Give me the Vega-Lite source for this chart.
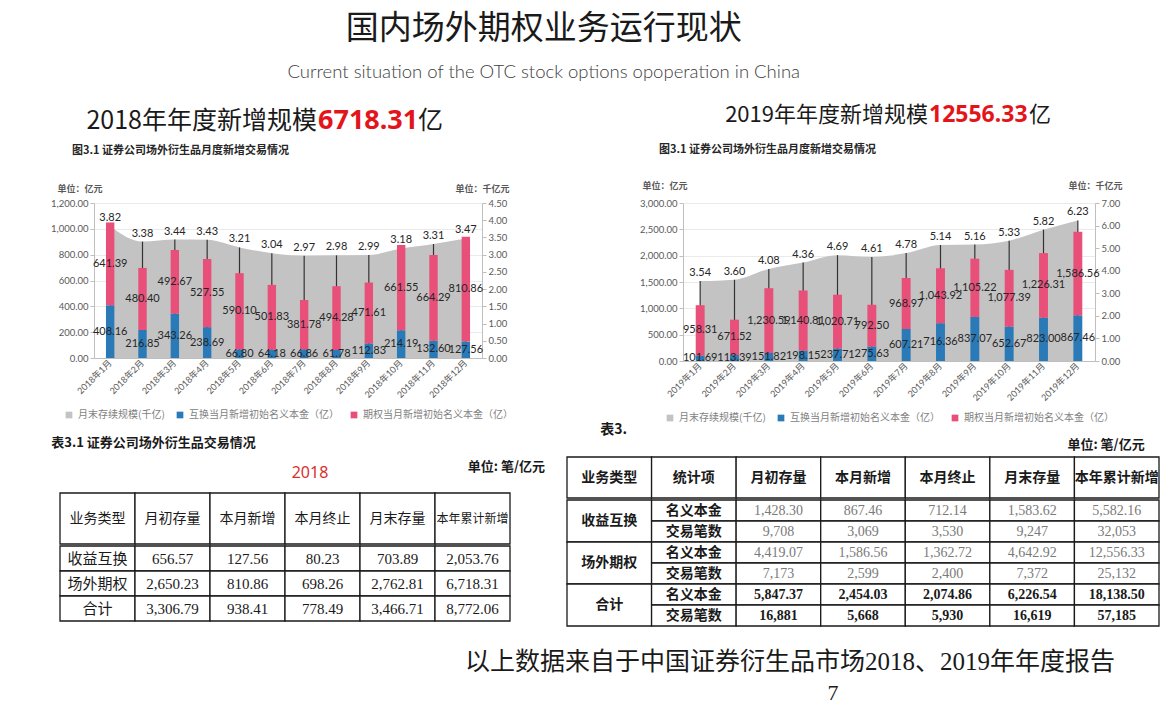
{
  "$schema": "https://vega.github.io/schema/vega-lite/v6.json",
  "background": "#ffffff",
  "padding": {"left": 50, "top": 12, "right": 0, "bottom": 0},
  "spacing": 0,
  "title": {
    "text": "国内场外期权业务运行现状",
    "subtitle": "Current situation of the OTC stock options opoperation in China",
    "anchor": "middle", "frame": "bounds", "dx": -66, "offset": 16,
    "font": "Noto Sans CJK SC", "fontSize": 33, "fontWeight": "normal", "color": "#1a1a1a",
    "subtitleFont": "Lato", "subtitleFontSize": 18.5, "subtitleFontWeight": 300, "subtitleColor": "#404040", "subtitlePadding": 17
  },
  "config": {
    "view": {"stroke": null},
    "legend": {"layout": {"bottom": {"anchor": "middle"}}}
  },
  "datasets": {
    "heads": [{"a1": "2018年年度新增规模", "a2": "6718.31", "a3": "亿", "b1": "2019年年度新增规模", "b2": "12556.33", "b3": "亿"}],
    "foot": [{"f": "以上数据来自于中国证券衍生品市场2018、2019年年度报告", "p": "7"}],
    "meta18": [{"yr": "2018", "unit": "单位: 笔/亿元"}],
    "c2018": [
      {"m": "2018年1月", "s": "月末存续规模(千亿)", "v": 3.82}, {"m": "2018年1月", "s": "互换当月新增初始名义本金（亿）", "v": 408.16}, {"m": "2018年1月", "s": "期权当月新增初始名义本金（亿）", "v": 641.39},
      {"m": "2018年2月", "s": "月末存续规模(千亿)", "v": 3.38}, {"m": "2018年2月", "s": "互换当月新增初始名义本金（亿）", "v": 216.85}, {"m": "2018年2月", "s": "期权当月新增初始名义本金（亿）", "v": 480.40},
      {"m": "2018年3月", "s": "月末存续规模(千亿)", "v": 3.44}, {"m": "2018年3月", "s": "互换当月新增初始名义本金（亿）", "v": 343.26}, {"m": "2018年3月", "s": "期权当月新增初始名义本金（亿）", "v": 492.67},
      {"m": "2018年4月", "s": "月末存续规模(千亿)", "v": 3.43}, {"m": "2018年4月", "s": "互换当月新增初始名义本金（亿）", "v": 238.69}, {"m": "2018年4月", "s": "期权当月新增初始名义本金（亿）", "v": 527.55},
      {"m": "2018年5月", "s": "月末存续规模(千亿)", "v": 3.21}, {"m": "2018年5月", "s": "互换当月新增初始名义本金（亿）", "v": 66.80}, {"m": "2018年5月", "s": "期权当月新增初始名义本金（亿）", "v": 590.10},
      {"m": "2018年6月", "s": "月末存续规模(千亿)", "v": 3.04}, {"m": "2018年6月", "s": "互换当月新增初始名义本金（亿）", "v": 64.18}, {"m": "2018年6月", "s": "期权当月新增初始名义本金（亿）", "v": 501.83},
      {"m": "2018年7月", "s": "月末存续规模(千亿)", "v": 2.97}, {"m": "2018年7月", "s": "互换当月新增初始名义本金（亿）", "v": 66.86}, {"m": "2018年7月", "s": "期权当月新增初始名义本金（亿）", "v": 381.78},
      {"m": "2018年8月", "s": "月末存续规模(千亿)", "v": 2.98}, {"m": "2018年8月", "s": "互换当月新增初始名义本金（亿）", "v": 61.78}, {"m": "2018年8月", "s": "期权当月新增初始名义本金（亿）", "v": 494.28},
      {"m": "2018年9月", "s": "月末存续规模(千亿)", "v": 2.99}, {"m": "2018年9月", "s": "互换当月新增初始名义本金（亿）", "v": 112.83}, {"m": "2018年9月", "s": "期权当月新增初始名义本金（亿）", "v": 471.61},
      {"m": "2018年10月", "s": "月末存续规模(千亿)", "v": 3.18}, {"m": "2018年10月", "s": "互换当月新增初始名义本金（亿）", "v": 214.19}, {"m": "2018年10月", "s": "期权当月新增初始名义本金（亿）", "v": 661.55},
      {"m": "2018年11月", "s": "月末存续规模(千亿)", "v": 3.31}, {"m": "2018年11月", "s": "互换当月新增初始名义本金（亿）", "v": 132.60}, {"m": "2018年11月", "s": "期权当月新增初始名义本金（亿）", "v": 664.29},
      {"m": "2018年12月", "s": "月末存续规模(千亿)", "v": 3.47}, {"m": "2018年12月", "s": "互换当月新增初始名义本金（亿）", "v": 127.56}, {"m": "2018年12月", "s": "期权当月新增初始名义本金（亿）", "v": 810.86}
    ],
    "c2019": [
      {"m": "2019年1月", "s": "月末存续规模(千亿)", "v": 3.54}, {"m": "2019年1月", "s": "互换当月新增初始名义本金（亿）", "v": 101.69}, {"m": "2019年1月", "s": "期权当月新增初始名义本金（亿）", "v": 958.31},
      {"m": "2019年2月", "s": "月末存续规模(千亿)", "v": 3.60}, {"m": "2019年2月", "s": "互换当月新增初始名义本金（亿）", "v": 113.39}, {"m": "2019年2月", "s": "期权当月新增初始名义本金（亿）", "v": 671.52},
      {"m": "2019年3月", "s": "月末存续规模(千亿)", "v": 4.08}, {"m": "2019年3月", "s": "互换当月新增初始名义本金（亿）", "v": 151.82}, {"m": "2019年3月", "s": "期权当月新增初始名义本金（亿）", "v": 1230.59},
      {"m": "2019年4月", "s": "月末存续规模(千亿)", "v": 4.36}, {"m": "2019年4月", "s": "互换当月新增初始名义本金（亿）", "v": 198.15}, {"m": "2019年4月", "s": "期权当月新增初始名义本金（亿）", "v": 1140.81},
      {"m": "2019年5月", "s": "月末存续规模(千亿)", "v": 4.69}, {"m": "2019年5月", "s": "互换当月新增初始名义本金（亿）", "v": 237.71}, {"m": "2019年5月", "s": "期权当月新增初始名义本金（亿）", "v": 1020.71},
      {"m": "2019年6月", "s": "月末存续规模(千亿)", "v": 4.61}, {"m": "2019年6月", "s": "互换当月新增初始名义本金（亿）", "v": 275.63}, {"m": "2019年6月", "s": "期权当月新增初始名义本金（亿）", "v": 792.50},
      {"m": "2019年7月", "s": "月末存续规模(千亿)", "v": 4.78}, {"m": "2019年7月", "s": "互换当月新增初始名义本金（亿）", "v": 607.21}, {"m": "2019年7月", "s": "期权当月新增初始名义本金（亿）", "v": 968.97},
      {"m": "2019年8月", "s": "月末存续规模(千亿)", "v": 5.14}, {"m": "2019年8月", "s": "互换当月新增初始名义本金（亿）", "v": 716.36}, {"m": "2019年8月", "s": "期权当月新增初始名义本金（亿）", "v": 1043.92},
      {"m": "2019年9月", "s": "月末存续规模(千亿)", "v": 5.16}, {"m": "2019年9月", "s": "互换当月新增初始名义本金（亿）", "v": 837.07}, {"m": "2019年9月", "s": "期权当月新增初始名义本金（亿）", "v": 1105.22},
      {"m": "2019年10月", "s": "月末存续规模(千亿)", "v": 5.33}, {"m": "2019年10月", "s": "互换当月新增初始名义本金（亿）", "v": 652.67}, {"m": "2019年10月", "s": "期权当月新增初始名义本金（亿）", "v": 1077.39},
      {"m": "2019年11月", "s": "月末存续规模(千亿)", "v": 5.82}, {"m": "2019年11月", "s": "互换当月新增初始名义本金（亿）", "v": 823.00}, {"m": "2019年11月", "s": "期权当月新增初始名义本金（亿）", "v": 1226.31},
      {"m": "2019年12月", "s": "月末存续规模(千亿)", "v": 6.23}, {"m": "2019年12月", "s": "互换当月新增初始名义本金（亿）", "v": 867.46}, {"m": "2019年12月", "s": "期权当月新增初始名义本金（亿）", "v": 1586.56}
    ],
    "t18h": [{"c": "业务类型"}, {"c": "月初存量"}, {"c": "本月新增"}, {"c": "本月终止"}, {"c": "月末存量"}, {"c": "本年累计新增"}],
    "t18b": [
      {"r": "收益互换", "c": "业务类型", "t": "收益互换"}, {"r": "收益互换", "c": "月初存量", "t": "656.57"}, {"r": "收益互换", "c": "本月新增", "t": "127.56"}, {"r": "收益互换", "c": "本月终止", "t": "80.23"}, {"r": "收益互换", "c": "月末存量", "t": "703.89"}, {"r": "收益互换", "c": "本年累计新增", "t": "2,053.76"},
      {"r": "场外期权", "c": "业务类型", "t": "场外期权"}, {"r": "场外期权", "c": "月初存量", "t": "2,650.23"}, {"r": "场外期权", "c": "本月新增", "t": "810.86"}, {"r": "场外期权", "c": "本月终止", "t": "698.26"}, {"r": "场外期权", "c": "月末存量", "t": "2,762.81"}, {"r": "场外期权", "c": "本年累计新增", "t": "6,718.31"},
      {"r": "合计", "c": "业务类型", "t": "合计"}, {"r": "合计", "c": "月初存量", "t": "3,306.79"}, {"r": "合计", "c": "本月新增", "t": "938.41"}, {"r": "合计", "c": "本月终止", "t": "778.49"}, {"r": "合计", "c": "月末存量", "t": "3,466.71"}, {"r": "合计", "c": "本年累计新增", "t": "8,772.06"}
    ],
    "t19h": [{"c": "业务类型"}, {"c": "统计项"}, {"c": "月初存量"}, {"c": "本月新增"}, {"c": "本月终止"}, {"c": "月末存量"}, {"c": "本年累计新增"}],
    "t19g": [{"g": "收益互换", "c": "业务类型"}, {"g": "场外期权", "c": "业务类型"}, {"g": "合计", "c": "业务类型"}],
    "t19b": [
      {"k": "收益互换/名义本金", "g": "收益互换", "c": "统计项", "t": "名义本金"}, {"k": "收益互换/名义本金", "g": "收益互换", "c": "月初存量", "t": "1,428.30"}, {"k": "收益互换/名义本金", "g": "收益互换", "c": "本月新增", "t": "867.46"}, {"k": "收益互换/名义本金", "g": "收益互换", "c": "本月终止", "t": "712.14"}, {"k": "收益互换/名义本金", "g": "收益互换", "c": "月末存量", "t": "1,583.62"}, {"k": "收益互换/名义本金", "g": "收益互换", "c": "本年累计新增", "t": "5,582.16"},
      {"k": "收益互换/交易笔数", "g": "收益互换", "c": "统计项", "t": "交易笔数"}, {"k": "收益互换/交易笔数", "g": "收益互换", "c": "月初存量", "t": "9,708"}, {"k": "收益互换/交易笔数", "g": "收益互换", "c": "本月新增", "t": "3,069"}, {"k": "收益互换/交易笔数", "g": "收益互换", "c": "本月终止", "t": "3,530"}, {"k": "收益互换/交易笔数", "g": "收益互换", "c": "月末存量", "t": "9,247"}, {"k": "收益互换/交易笔数", "g": "收益互换", "c": "本年累计新增", "t": "32,053"},
      {"k": "场外期权/名义本金", "g": "场外期权", "c": "统计项", "t": "名义本金"}, {"k": "场外期权/名义本金", "g": "场外期权", "c": "月初存量", "t": "4,419.07"}, {"k": "场外期权/名义本金", "g": "场外期权", "c": "本月新增", "t": "1,586.56"}, {"k": "场外期权/名义本金", "g": "场外期权", "c": "本月终止", "t": "1,362.72"}, {"k": "场外期权/名义本金", "g": "场外期权", "c": "月末存量", "t": "4,642.92"}, {"k": "场外期权/名义本金", "g": "场外期权", "c": "本年累计新增", "t": "12,556.33"},
      {"k": "场外期权/交易笔数", "g": "场外期权", "c": "统计项", "t": "交易笔数"}, {"k": "场外期权/交易笔数", "g": "场外期权", "c": "月初存量", "t": "7,173"}, {"k": "场外期权/交易笔数", "g": "场外期权", "c": "本月新增", "t": "2,599"}, {"k": "场外期权/交易笔数", "g": "场外期权", "c": "本月终止", "t": "2,400"}, {"k": "场外期权/交易笔数", "g": "场外期权", "c": "月末存量", "t": "7,372"}, {"k": "场外期权/交易笔数", "g": "场外期权", "c": "本年累计新增", "t": "25,132"},
      {"k": "合计/名义本金", "g": "合计", "c": "统计项", "t": "名义本金"}, {"k": "合计/名义本金", "g": "合计", "c": "月初存量", "t": "5,847.37"}, {"k": "合计/名义本金", "g": "合计", "c": "本月新增", "t": "2,454.03"}, {"k": "合计/名义本金", "g": "合计", "c": "本月终止", "t": "2,074.86"}, {"k": "合计/名义本金", "g": "合计", "c": "月末存量", "t": "6,226.54"}, {"k": "合计/名义本金", "g": "合计", "c": "本年累计新增", "t": "18,138.50"},
      {"k": "合计/交易笔数", "g": "合计", "c": "统计项", "t": "交易笔数"}, {"k": "合计/交易笔数", "g": "合计", "c": "月初存量", "t": "16,881"}, {"k": "合计/交易笔数", "g": "合计", "c": "本月新增", "t": "5,668"}, {"k": "合计/交易笔数", "g": "合计", "c": "本月终止", "t": "5,930"}, {"k": "合计/交易笔数", "g": "合计", "c": "月末存量", "t": "16,619"}, {"k": "合计/交易笔数", "g": "合计", "c": "本年累计新增", "t": "57,185"}
    ]
  },
  "vconcat": [
    {
      "width": 1075, "height": 47,
      "data": {"name": "heads"},
      "layer": [
        {"mark": {"type": "text", "align": "right", "baseline": "middle", "dx": -314.5, "dy": 0, "font": "Noto Sans CJK SC", "fontSize": 25, "color": "#1a1a1a"}, "encoding": {"text": {"field": "a1"}}},
        {"mark": {"type": "text", "align": "left", "baseline": "middle", "dx": -313.5, "dy": 0, "font": "Noto Sans", "fontWeight": "bold", "fontSize": 27, "color": "#e3151a"}, "encoding": {"text": {"field": "a2"}}},
        {"mark": {"type": "text", "align": "left", "baseline": "middle", "dx": -213.5, "dy": 0, "font": "Noto Sans CJK SC", "fontSize": 25, "color": "#1a1a1a"}, "encoding": {"text": {"field": "a3"}}},
        {"mark": {"type": "text", "align": "right", "baseline": "middle", "dx": 296.5, "dy": -6, "font": "Noto Sans CJK SC", "fontSize": 22, "color": "#1a1a1a"}, "encoding": {"text": {"field": "b1"}}},
        {"mark": {"type": "text", "align": "left", "baseline": "middle", "dx": 297.5, "dy": -6, "font": "Noto Sans", "fontWeight": "bold", "fontSize": 23, "color": "#e3151a"}, "encoding": {"text": {"field": "b2"}}},
        {"mark": {"type": "text", "align": "left", "baseline": "middle", "dx": 397.5, "dy": -6, "font": "Noto Sans CJK SC", "fontSize": 22, "color": "#1a1a1a"}, "encoding": {"text": {"field": "b3"}}}
      ]
    },
    {
      "hconcat": [
        {
          "width": 388, "height": 155,
          "data": {"name": "c2018"},
          "title": {"text": "图3.1 证券公司场外衍生品月度新增交易情况", "anchor": "start", "frame": "group", "dx": -22, "offset": 28, "font": "Noto Sans CJK SC", "fontSize": 11, "fontWeight": "bold", "color": "#262626"},
          "layer": [
            {
              "transform": [{"filter": "datum.s === '月末存续规模(千亿)'"}],
              "encoding": {
                "x": {"field": "m", "type": "ordinal", "bandPosition": 0.5, "scale": {"domain": ["2018年1月", "2018年2月", "2018年3月", "2018年4月", "2018年5月", "2018年6月", "2018年7月", "2018年8月", "2018年9月", "2018年10月", "2018年11月", "2018年12月"], "paddingInner": 0.74, "paddingOuter": 0.37}},
                "y": {"field": "v", "type": "quantitative", "scale": {"domain": [0, 4.5], "nice": false},
                  "axis": {"orient": "right", "values": [0, 0.5, 1, 1.5, 2, 2.5, 3, 3.5, 4, 4.5], "format": ".2f", "grid": false, "domainColor": "#bfbfbf", "tickColor": "#bfbfbf", "tickSize": 4, "labelFont": "Lato", "labelFontSize": 9.5, "labelColor": "#595959", "labelPadding": 2,
                    "title": "单位：千亿元", "titleAngle": 0, "titleX": 0, "titleY": -12, "titleAlign": "center", "titleBaseline": "alphabetic", "titleFont": "Noto Sans CJK SC", "titleFontSize": 9, "titleFontWeight": "bold", "titleColor": "#595959"}}
              },
              "layer": [
                {"mark": {"type": "area", "interpolate": "monotone"},
                 "encoding": {"color": {"field": "s", "type": "nominal", "scale": {"domain": ["月末存续规模(千亿)", "互换当月新增初始名义本金（亿）", "期权当月新增初始名义本金（亿）"], "range": ["#c3c3c3", "#2a7ab8", "#e8507a"]},
                   "legend": {"orient": "bottom", "direction": "horizontal", "title": null, "symbolType": "square", "symbolSize": 45, "symbolStrokeWidth": 0, "labelFont": "Noto Sans CJK SC", "labelFontSize": 10, "labelColor": "#7f7f7f", "columnPadding": 10, "offset": 10, "labelLimit": 220, "padding": 0}}}},
                {"mark": {"type": "rule", "color": "#333333", "strokeWidth": 1.2}, "encoding": {"y2": {"datum": 0}}},
                {"mark": {"type": "text", "baseline": "bottom", "dy": -3, "font": "Lato", "fontSize": 11, "color": "#262626"}, "encoding": {"text": {"field": "v", "format": ".2f"}}}
              ]
            },
            {
              "transform": [
                {"filter": "datum.s !== '月末存续规模(千亿)'"},
                {"stack": "v", "groupby": ["m"], "sort": [{"field": "s", "order": "ascending"}], "as": ["v0", "v1"]}
              ],
              "encoding": {
                "x": {"field": "m", "type": "ordinal", "scale": {"domain": ["2018年1月", "2018年2月", "2018年3月", "2018年4月", "2018年5月", "2018年6月", "2018年7月", "2018年8月", "2018年9月", "2018年10月", "2018年11月", "2018年12月"], "paddingInner": 0.74, "paddingOuter": 0.37},
                  "axis": {"title": null, "labelAngle": -45, "labelFont": "Lato, Noto Sans CJK SC", "labelFontSize": 9, "labelColor": "#595959", "domainColor": "#bfbfbf", "ticks": false, "labelPadding": 3}},
                "y": {"field": "v0", "type": "quantitative", "scale": {"domain": [0, 1200], "nice": false},
                  "axis": {"orient": "left", "values": [0, 200, 400, 600, 800, 1000, 1200], "format": ",.2f", "grid": true, "gridColor": "#e4e4e4", "gridWidth": 0.8, "domainColor": "#bfbfbf", "tickColor": "#bfbfbf", "tickSize": 4, "labelFont": "Lato", "labelFontSize": 9.5, "labelColor": "#595959", "labelPadding": 2,
                    "title": "单位：亿元", "titleAngle": 0, "titleX": -37, "titleY": -12, "titleAlign": "left", "titleBaseline": "alphabetic", "titleFont": "Noto Sans CJK SC", "titleFontSize": 9, "titleFontWeight": "bold", "titleColor": "#595959"}}
              },
              "layer": [
                {"mark": {"type": "bar"},
                 "encoding": {"y2": {"field": "v1"},
                   "color": {"field": "s", "type": "nominal", "scale": {"domain": ["月末存续规模(千亿)", "互换当月新增初始名义本金（亿）", "期权当月新增初始名义本金（亿）"], "range": ["#c3c3c3", "#2a7ab8", "#e8507a"]},
                   "legend": {"orient": "bottom", "direction": "horizontal", "title": null, "symbolType": "square", "symbolSize": 45, "symbolStrokeWidth": 0, "labelFont": "Noto Sans CJK SC", "labelFontSize": 10, "labelColor": "#7f7f7f", "columnPadding": 10, "offset": 10, "labelLimit": 220, "padding": 0}}}},
                {"transform": [{"fold": ["v0", "v1"], "as": ["edge", "pos"]}, {"aggregate": [{"op": "mean", "field": "pos", "as": "mid"}], "groupby": ["m", "s", "v"]}],
                 "mark": {"type": "text", "baseline": "middle", "font": "Lato", "fontSize": 11, "color": "#262626"},
                 "encoding": {"y": {"field": "mid", "type": "quantitative"}, "text": {"field": "v", "format": ",.2f"}}}
              ]
            }
          ],
          "resolve": {"scale": {"y": "independent"}}
        },
        {
          "width": 412, "height": 158,
          "data": {"name": "c2019"},
          "title": {"text": "图3.1 证券公司场外衍生品月度新增交易情况", "anchor": "start", "frame": "group", "dx": -24, "offset": 26, "font": "Noto Sans CJK SC", "fontSize": 11, "fontWeight": "bold", "color": "#262626"},
          "layer": [
            {
              "transform": [{"filter": "datum.s === '月末存续规模(千亿)'"}],
              "encoding": {
                "x": {"field": "m", "type": "ordinal", "bandPosition": 0.5, "scale": {"domain": ["2019年1月", "2019年2月", "2019年3月", "2019年4月", "2019年5月", "2019年6月", "2019年7月", "2019年8月", "2019年9月", "2019年10月", "2019年11月", "2019年12月"], "paddingInner": 0.74, "paddingOuter": 0.37}},
                "y": {"field": "v", "type": "quantitative", "scale": {"domain": [0, 7], "nice": false},
                  "axis": {"orient": "right", "values": [0, 1, 2, 3, 4, 5, 6, 7], "format": ".2f", "grid": false, "domainColor": "#bfbfbf", "tickColor": "#bfbfbf", "tickSize": 4, "labelFont": "Lato", "labelFontSize": 9.5, "labelColor": "#595959", "labelPadding": 2,
                    "title": "单位：千亿元", "titleAngle": 0, "titleX": 0, "titleY": -15, "titleAlign": "center", "titleBaseline": "alphabetic", "titleFont": "Noto Sans CJK SC", "titleFontSize": 9, "titleFontWeight": "bold", "titleColor": "#595959"}}
              },
              "layer": [
                {"mark": {"type": "area", "interpolate": "monotone"},
                 "encoding": {"color": {"field": "s", "type": "nominal", "scale": {"domain": ["月末存续规模(千亿)", "互换当月新增初始名义本金（亿）", "期权当月新增初始名义本金（亿）"], "range": ["#c3c3c3", "#2a7ab8", "#e8507a"]},
                   "legend": {"orient": "bottom", "direction": "horizontal", "title": null, "symbolType": "square", "symbolSize": 45, "symbolStrokeWidth": 0, "labelFont": "Noto Sans CJK SC", "labelFontSize": 10, "labelColor": "#7f7f7f", "columnPadding": 10, "offset": 10, "labelLimit": 220, "padding": 0}}}},
                {"mark": {"type": "rule", "color": "#333333", "strokeWidth": 1.2}, "encoding": {"y2": {"datum": 0}}},
                {"mark": {"type": "text", "baseline": "bottom", "dy": -3, "font": "Lato", "fontSize": 11, "color": "#262626"}, "encoding": {"text": {"field": "v", "format": ".2f"}}}
              ]
            },
            {
              "transform": [
                {"filter": "datum.s !== '月末存续规模(千亿)'"},
                {"stack": "v", "groupby": ["m"], "sort": [{"field": "s", "order": "ascending"}], "as": ["v0", "v1"]}
              ],
              "encoding": {
                "x": {"field": "m", "type": "ordinal", "scale": {"domain": ["2019年1月", "2019年2月", "2019年3月", "2019年4月", "2019年5月", "2019年6月", "2019年7月", "2019年8月", "2019年9月", "2019年10月", "2019年11月", "2019年12月"], "paddingInner": 0.74, "paddingOuter": 0.37},
                  "axis": {"title": null, "labelAngle": -45, "labelFont": "Lato, Noto Sans CJK SC", "labelFontSize": 9, "labelColor": "#595959", "domainColor": "#bfbfbf", "ticks": false, "labelPadding": 3}},
                "y": {"field": "v0", "type": "quantitative", "scale": {"domain": [0, 3000], "nice": false},
                  "axis": {"orient": "left", "values": [0, 500, 1000, 1500, 2000, 2500, 3000], "format": ",.2f", "grid": true, "gridColor": "#e4e4e4", "gridWidth": 0.8, "domainColor": "#bfbfbf", "tickColor": "#bfbfbf", "tickSize": 4, "labelFont": "Lato", "labelFontSize": 9.5, "labelColor": "#595959", "labelPadding": 2,
                    "title": "单位：亿元", "titleAngle": 0, "titleX": -41, "titleY": -15, "titleAlign": "left", "titleBaseline": "alphabetic", "titleFont": "Noto Sans CJK SC", "titleFontSize": 9, "titleFontWeight": "bold", "titleColor": "#595959"}}
              },
              "layer": [
                {"mark": {"type": "bar"},
                 "encoding": {"y2": {"field": "v1"},
                   "color": {"field": "s", "type": "nominal", "scale": {"domain": ["月末存续规模(千亿)", "互换当月新增初始名义本金（亿）", "期权当月新增初始名义本金（亿）"], "range": ["#c3c3c3", "#2a7ab8", "#e8507a"]},
                   "legend": {"orient": "bottom", "direction": "horizontal", "title": null, "symbolType": "square", "symbolSize": 45, "symbolStrokeWidth": 0, "labelFont": "Noto Sans CJK SC", "labelFontSize": 10, "labelColor": "#7f7f7f", "columnPadding": 10, "offset": 10, "labelLimit": 220, "padding": 0}}}},
                {"transform": [{"fold": ["v0", "v1"], "as": ["edge", "pos"]}, {"aggregate": [{"op": "mean", "field": "pos", "as": "mid"}], "groupby": ["m", "s", "v"]}],
                 "mark": {"type": "text", "baseline": "middle", "font": "Lato", "fontSize": 11, "color": "#262626"},
                 "encoding": {"y": {"field": "mid", "type": "quantitative"}, "text": {"field": "v", "format": ",.2f"}}}
              ]
            }
          ],
          "resolve": {"scale": {"y": "independent"}}
        }
      ],
      "spacing": 126,
      "resolve": {"scale": {"color": "independent"}}
    },
    {
      "hconcat": [
        {
          "title": {"text": "表3.1 证券公司场外衍生品交易情况", "anchor": "start", "frame": "bounds", "dx": -8, "offset": 7, "font": "Noto Sans CJK SC", "fontSize": 13, "fontWeight": "bold", "color": "#1a1a1a"},
          "spacing": 0,
          "vconcat": [
            {
              "width": 416, "height": 35,
              "data": {"name": "meta18"},
              "layer": [
                {"mark": {"type": "text", "align": "center", "baseline": "middle", "dx": 8, "dy": -2, "font": "Noto Sans", "fontSize": 16, "color": "#d9302c"}, "encoding": {"text": {"field": "yr"}}},
                {"mark": {"type": "text", "align": "right", "baseline": "middle", "dx": 243, "dy": -8, "font": "Noto Sans CJK SC", "fontWeight": "bold", "fontSize": 13, "color": "#1a1a1a"}, "encoding": {"text": {"field": "unit"}}}
              ]
            },
            {
              "width": 416, "height": 51,
              "data": {"name": "t18h"},
              "encoding": {"x": {"field": "c", "type": "nominal", "scale": {"domain": ["业务类型", "月初存量", "本月新增", "本月终止", "月末存量", "本年累计新增"], "range": [-34, 416], "paddingInner": 0, "paddingOuter": 0}, "axis": null}},
              "layer": [
                {"mark": {"type": "rect", "fill": "#ffffff", "stroke": "#1a1a1a", "strokeWidth": 1.3}},
                {"transform": [{"filter": "datum.c !== '本年累计新增'"}], "mark": {"type": "text", "font": "Noto Sans CJK SC", "fontSize": 14, "color": "#1a1a1a"}, "encoding": {"text": {"field": "c"}}},
                {"transform": [{"filter": "datum.c === '本年累计新增'"}], "mark": {"type": "text", "font": "Noto Sans CJK SC", "fontSize": 12, "color": "#1a1a1a"}, "encoding": {"text": {"field": "c"}}}
              ]
            },
            {
              "width": 416, "height": 75,
              "data": {"name": "t18b"},
              "encoding": {
                "x": {"field": "c", "type": "nominal", "scale": {"domain": ["业务类型", "月初存量", "本月新增", "本月终止", "月末存量", "本年累计新增"], "range": [-34, 416], "paddingInner": 0, "paddingOuter": 0}, "axis": null},
                "y": {"field": "r", "type": "nominal", "scale": {"domain": ["收益互换", "场外期权", "合计"], "paddingInner": 0, "paddingOuter": 0}, "axis": null}
              },
              "layer": [
                {"mark": {"type": "rect", "fill": "#ffffff", "stroke": "#1a1a1a", "strokeWidth": 1.3}},
                {"mark": {"type": "text", "font": "Liberation Serif, Noto Sans CJK SC", "fontSize": 15, "color": "#1a1a1a"}, "encoding": {"text": {"field": "t"}}}
              ]
            }
          ]
        },
        {
          "title": {"text": "表3.", "anchor": "start", "frame": "bounds", "dx": 34, "offset": 2, "font": "Noto Sans CJK SC", "fontSize": 14, "fontWeight": "bold", "color": "#1a1a1a"},
          "spacing": 0,
          "vconcat": [
            {
              "title": {"text": "单位: 笔/亿元", "anchor": "end", "frame": "bounds", "dx": -15, "offset": 4, "font": "Noto Sans CJK SC", "fontSize": 13, "fontWeight": "bold", "color": "#1a1a1a"},
              "spacing": 0,
              "vconcat": [
                {
                  "width": 592, "height": 41,
                  "data": {"name": "t19h"},
                  "encoding": {"x": {"field": "c", "type": "nominal", "scale": {"domain": ["业务类型", "统计项", "月初存量", "本月新增", "本月终止", "月末存量", "本年累计新增"], "paddingInner": 0, "paddingOuter": 0}, "axis": null}},
                  "layer": [
                    {"mark": {"type": "rect", "fill": "#ffffff", "stroke": "#1a1a1a", "strokeWidth": 1.3}},
                    {"mark": {"type": "text", "font": "Noto Sans CJK SC", "fontWeight": "bold", "fontSize": 14, "color": "#1a1a1a"}, "encoding": {"text": {"field": "c"}}}
                  ]
                },
                {
                  "width": 592, "height": 126,
                  "layer": [
                    {
                      "data": {"name": "t19g"},
                      "encoding": {
                        "x": {"field": "c", "type": "nominal", "scale": {"domain": ["业务类型", "统计项", "月初存量", "本月新增", "本月终止", "月末存量", "本年累计新增"], "paddingInner": 0, "paddingOuter": 0}, "axis": null},
                        "y": {"field": "g", "type": "nominal", "scale": {"domain": ["收益互换", "场外期权", "合计"], "paddingInner": 0, "paddingOuter": 0}, "axis": null}
                      },
                      "layer": [
                        {"mark": {"type": "rect", "fill": "#ffffff", "stroke": "#1a1a1a", "strokeWidth": 1.3}},
                        {"mark": {"type": "text", "font": "Noto Sans CJK SC", "fontWeight": "bold", "fontSize": 14, "color": "#1a1a1a"}, "encoding": {"text": {"field": "g"}}}
                      ]
                    },
                    {
                      "data": {"name": "t19b"},
                      "encoding": {
                        "x": {"field": "c", "type": "nominal", "scale": {"domain": ["业务类型", "统计项", "月初存量", "本月新增", "本月终止", "月末存量", "本年累计新增"], "paddingInner": 0, "paddingOuter": 0}, "axis": null},
                        "y": {"field": "k", "type": "nominal", "scale": {"domain": ["收益互换/名义本金", "收益互换/交易笔数", "场外期权/名义本金", "场外期权/交易笔数", "合计/名义本金", "合计/交易笔数"], "paddingInner": 0, "paddingOuter": 0}, "axis": null}
                      },
                      "layer": [
                        {"mark": {"type": "rect", "fill": "#ffffff", "stroke": "#1a1a1a", "strokeWidth": 1.3}},
                        {"transform": [{"filter": "datum.c === '统计项'"}], "mark": {"type": "text", "font": "Noto Sans CJK SC", "fontWeight": "bold", "fontSize": 14, "color": "#1a1a1a"}, "encoding": {"text": {"field": "t"}}},
                        {"transform": [{"filter": "datum.c !== '统计项' && datum.g === '合计'"}], "mark": {"type": "text", "font": "Liberation Serif", "fontWeight": "bold", "fontSize": 14, "color": "#1a1a1a"}, "encoding": {"text": {"field": "t"}}},
                        {"transform": [{"filter": "datum.c !== '统计项' && datum.g !== '合计'"}], "mark": {"type": "text", "font": "Liberation Serif", "fontSize": 14, "color": "#7a7a7a"}, "encoding": {"text": {"field": "t"}}}
                      ]
                    }
                  ],
                  "resolve": {"scale": {"y": "independent"}}
                }
              ]
            }
          ]
        }
      ],
      "spacing": 21
    },
    {
      "width": 1075, "height": 66,
      "data": {"name": "foot"},
      "layer": [
        {"mark": {"type": "text", "align": "center", "baseline": "middle", "dx": 158.5, "dy": 1.5, "font": "Liberation Serif, Noto Sans CJK SC", "fontSize": 25, "color": "#1a1a1a"}, "encoding": {"text": {"field": "f"}}},
        {"mark": {"type": "text", "align": "center", "baseline": "middle", "dx": 201.5, "dy": 32.5, "font": "Liberation Serif", "fontSize": 22, "color": "#1a1a1a"}, "encoding": {"text": {"field": "p"}}}
      ]
    }
  ]
}
